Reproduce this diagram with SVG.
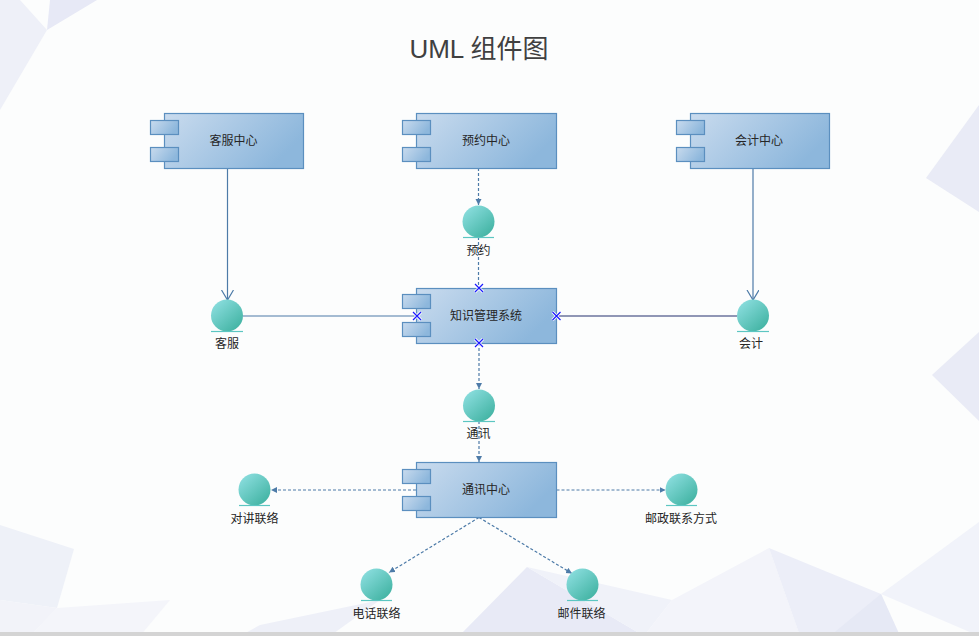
<svg xmlns="http://www.w3.org/2000/svg" width="979" height="636" viewBox="0 0 979 636">
<style>
.lbl{font-family:"Liberation Sans","Noto Sans CJK SC",sans-serif;font-size:12px;fill:#262626;text-anchor:middle}
.title{font-family:"Liberation Sans","Noto Sans CJK SC",sans-serif;font-size:26px;fill:#404040;text-anchor:middle}
.box{fill:url(#gBox);stroke:#5b8fbf;stroke-width:1.2}
.ifc{fill:url(#gIfc)}
.base{stroke:#5cc6c2;stroke-width:1.2}
.sol{stroke:#4d7ba8;stroke-width:1.2;fill:none}
.dash{stroke:#4d7ba8;stroke-width:1.2;fill:none;stroke-dasharray:3 2}
.xh{stroke:#ffffff;stroke-width:3}
.xm{stroke:#1a1aff;stroke-width:1.2}
.bg{stroke:none}
</style>
<defs>
<linearGradient id="gBox" x1="0" y1="0" x2="1" y2="0.4">
<stop offset="0" stop-color="#c9dbee"/>
<stop offset="1" stop-color="#8db7dc"/>
</linearGradient>
<linearGradient id="gIfc" x1="0.15" y1="0.1" x2="0.85" y2="0.9">
<stop offset="0" stop-color="#88dcdc"/>
<stop offset="1" stop-color="#43b4a4"/>
</linearGradient>
<marker id="open" markerUnits="userSpaceOnUse" markerWidth="14" markerHeight="14" refX="10" refY="6" orient="auto">
<path d="M0,0 L10,6 L0,12" fill="none" stroke="#4d7ba8" stroke-width="1.2"/>
</marker>
<marker id="fill" markerUnits="userSpaceOnUse" markerWidth="8" markerHeight="8" refX="6" refY="3" orient="auto">
<path d="M0,0 L6,3 L0,6 z" fill="#4d7ba8"/>
</marker>
</defs>
<rect width="979" height="636" fill="#fcfdfd"/>
<g id="background">
<polygon class="bg" points="0,0 20,0 47,30 0,110" fill="#eef0f8"/>
<polygon class="bg" points="50,0 97,0 47,30" fill="#e7e9f6"/>
<polygon class="bg" points="979,105 926,178 979,212" fill="#e9ebf6"/>
<polygon class="bg" points="979,332 932,375 979,421" fill="#e9ebf6"/>
<polygon class="bg" points="0,525 74,549 57,608 0,600" fill="#eef1f8"/>
<polygon class="bg" points="0,600 57,608 30,636 0,636" fill="#f2f3f9"/>
<polygon class="bg" points="57,608 170,600 140,636 30,636" fill="#f4f5fa"/>
<polygon class="bg" points="260,625 380,600 330,636 240,636" fill="#eef0f8"/>
<polygon class="bg" points="527,567 459,636 644,636" fill="#e8eaf6"/>
<polygon class="bg" points="527,567 672,600 644,636" fill="#f0f2f9"/>
<polygon class="bg" points="672,600 769,548 800,636 644,636" fill="#f3f4fa"/>
<polygon class="bg" points="769,548 881,594 900,636 800,636" fill="#eceef8"/>
<polygon class="bg" points="979,522 881,594 979,636" fill="#f1f3fa"/>
<polygon class="bg" points="881,594 830,636 900,636" fill="#e6e9f5"/>
</g>
<rect x="0" y="632" width="979" height="4" fill="#d4d4d4"/>
<text class="title" x="479" y="58">UML 组件图</text>
<g id="connectors">
<line class="sol" x1="227.5" y1="168" x2="227.5" y2="300" marker-end="url(#open)"/>
<line class="sol" x1="753" y1="168" x2="753" y2="300" marker-end="url(#open)"/>
<line class="dash" x1="478.5" y1="168" x2="478.5" y2="205" marker-end="url(#fill)"/>
<line class="dash" x1="478.5" y1="222" x2="478.5" y2="288"/>
<line class="sol" x1="243" y1="316" x2="417" y2="316"/>
<line x1="556.5" y1="316" x2="737" y2="316" stroke="#24306e" stroke-width="1.2"/>
<line class="dash" x1="479" y1="343" x2="479" y2="389" marker-end="url(#fill)"/>
<line class="dash" x1="479" y1="406" x2="479" y2="462" marker-end="url(#fill)"/>
<line class="dash" x1="416" y1="490" x2="271" y2="490" marker-end="url(#fill)"/>
<line class="dash" x1="556.5" y1="490" x2="665.5" y2="490" marker-end="url(#fill)"/>
<line class="dash" x1="479" y1="517.5" x2="389" y2="572.5" marker-end="url(#fill)"/>
<line class="dash" x1="479" y1="517.5" x2="572" y2="573.5" marker-end="url(#fill)"/>
</g>
<g id="comp-kefu">
<rect class="box" x="164.5" y="113.5" width="139" height="55"/>
<rect class="box" x="150.5" y="120.5" width="28" height="14"/>
<rect class="box" x="150.5" y="147.5" width="28" height="14"/>
<text class="lbl" x="233.5" y="145">客服中心</text>
</g>
<g id="comp-yuyue">
<rect class="box" x="416.5" y="113.5" width="140" height="55"/>
<rect class="box" x="402.5" y="120.5" width="28" height="14"/>
<rect class="box" x="402.5" y="147.5" width="28" height="14"/>
<text class="lbl" x="486" y="145">预约中心</text>
</g>
<g id="comp-kuaiji">
<rect class="box" x="690.5" y="113.5" width="139" height="55"/>
<rect class="box" x="676.5" y="120.5" width="28" height="14"/>
<rect class="box" x="676.5" y="147.5" width="28" height="14"/>
<text class="lbl" x="759" y="145">会计中心</text>
</g>
<g id="comp-zhishi">
<rect class="box" x="416.5" y="288.5" width="140" height="55"/>
<rect class="box" x="402.5" y="294.5" width="28" height="14"/>
<rect class="box" x="402.5" y="322.5" width="28" height="14"/>
<text class="lbl" x="486" y="320">知识管理系统</text>
</g>
<g id="comp-tongxun">
<rect class="box" x="416.5" y="462.5" width="140" height="55"/>
<rect class="box" x="402.5" y="469.5" width="28" height="14"/>
<rect class="box" x="402.5" y="496.5" width="28" height="14"/>
<text class="lbl" x="486" y="494">通讯中心</text>
</g>
<g id="ifc-yuyue">
<circle class="ifc" cx="478.5" cy="221.5" r="16"/>
<line class="base" x1="463" y1="237.5" x2="494" y2="237.5"/>
<text class="lbl" x="478.5" y="255">预约</text>
</g>
<g id="ifc-kefu">
<circle class="ifc" cx="227" cy="315.5" r="16"/>
<line class="base" x1="211" y1="331.5" x2="243" y2="331.5"/>
<text class="lbl" x="227" y="347.5">客服</text>
</g>
<g id="ifc-kuaiji">
<circle class="ifc" cx="753" cy="315.5" r="16"/>
<line class="base" x1="737" y1="331.5" x2="769" y2="331.5"/>
<text class="lbl" x="751" y="347.5">会计</text>
</g>
<g id="ifc-tongxun">
<circle class="ifc" cx="479" cy="405.5" r="16"/>
<line class="base" x1="463" y1="421.5" x2="495" y2="421.5"/>
<text class="lbl" x="478.5" y="437.5">通讯</text>
</g>
<g id="ifc-duijiang">
<circle class="ifc" cx="254.5" cy="489.5" r="16"/>
<line class="base" x1="239" y1="505.5" x2="270" y2="505.5"/>
<text class="lbl" x="254.5" y="522.5">对讲联络</text>
</g>
<g id="ifc-youzheng">
<circle class="ifc" cx="681.5" cy="489.5" r="16"/>
<line class="base" x1="666" y1="505.5" x2="697" y2="505.5"/>
<text class="lbl" x="681" y="522.5">邮政联系方式</text>
</g>
<g id="ifc-dianhua">
<circle class="ifc" cx="376.5" cy="584.5" r="16"/>
<line class="base" x1="361" y1="600.5" x2="392" y2="600.5"/>
<text class="lbl" x="376.5" y="618">电话联络</text>
</g>
<g id="ifc-youjian">
<circle class="ifc" cx="582.5" cy="584.5" r="16"/>
<line class="base" x1="567" y1="600.5" x2="598" y2="600.5"/>
<text class="lbl" x="581.5" y="618">邮件联络</text>
</g>
<g id="xmarks">
<path class="xh" d="M475,284 l8,8 m0,-8 l-8,8 M413,312 l8,8 m0,-8 l-8,8 M552.5,312 l8,8 m0,-8 l-8,8 M475,339 l8,8 m0,-8 l-8,8"/>
<path class="xm" d="M475,284 l8,8 m0,-8 l-8,8 M413,312 l8,8 m0,-8 l-8,8 M552.5,312 l8,8 m0,-8 l-8,8 M475,339 l8,8 m0,-8 l-8,8"/>
</g>
</svg>
